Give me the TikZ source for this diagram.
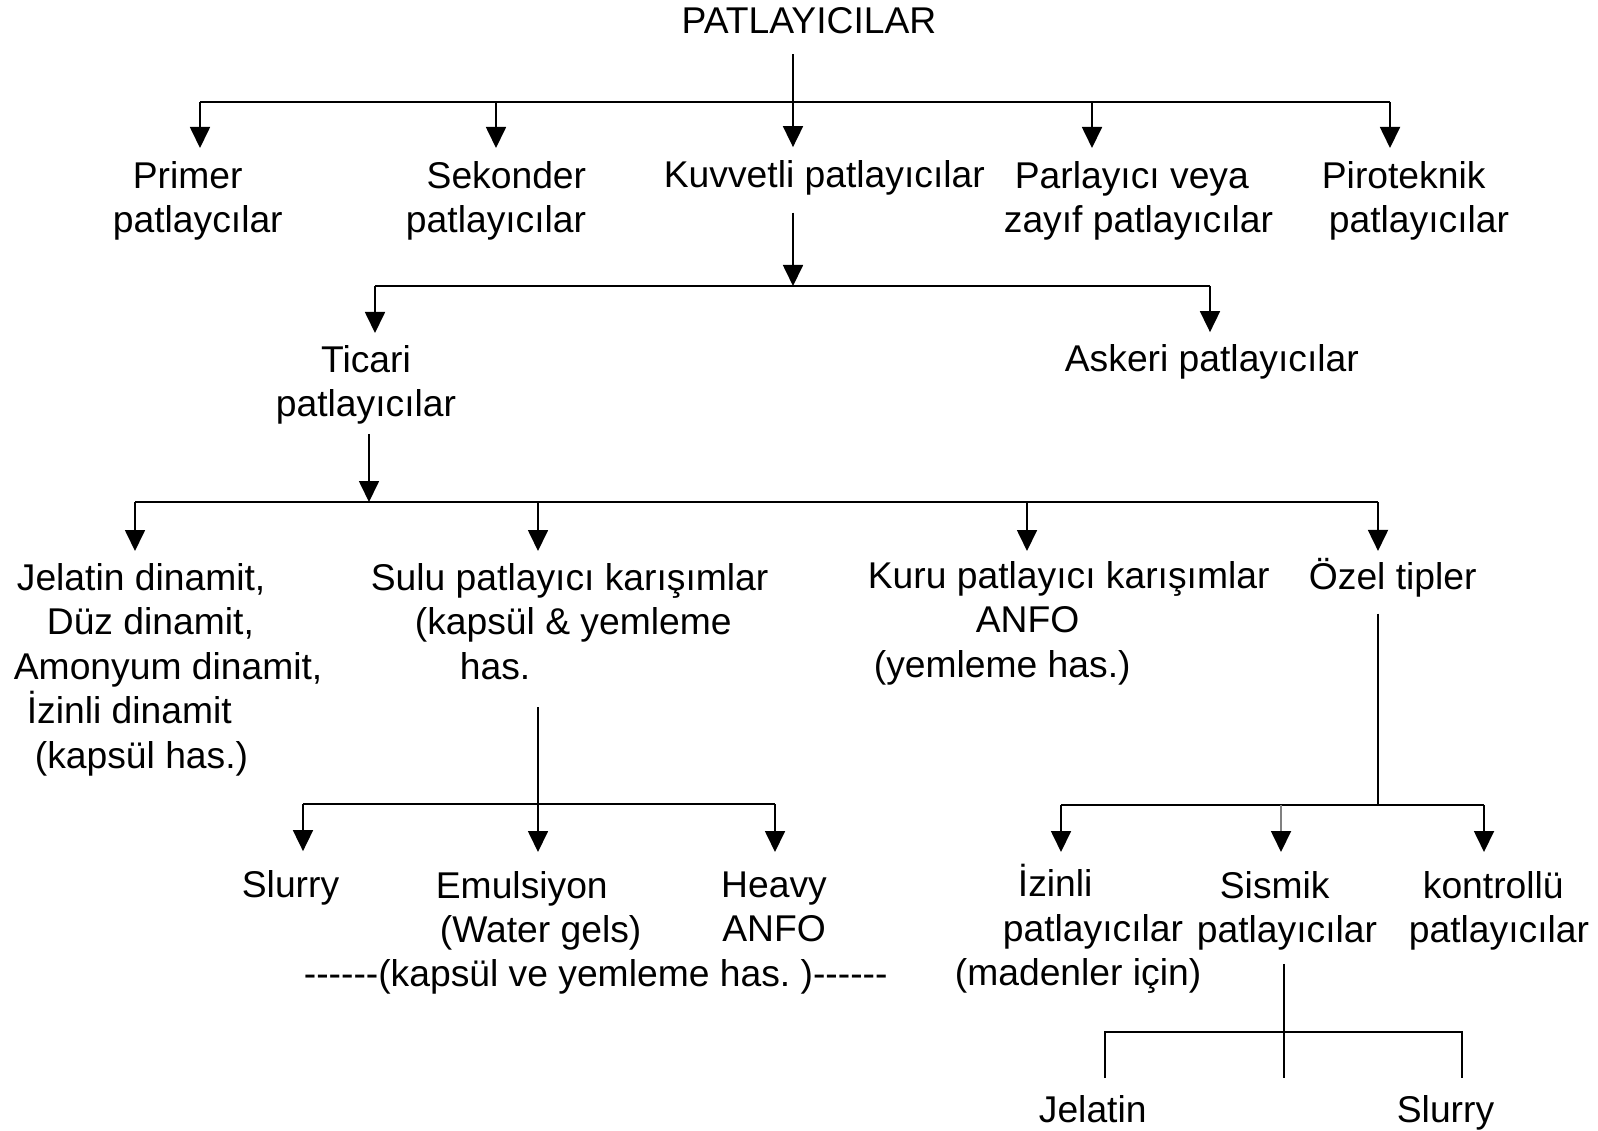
\documentclass[tikz,border=0pt]{standalone}
\usepackage{fontspec}
\setmainfont{Liberation Sans}
\usetikzlibrary{arrows.meta}

\newcommand{\lpad}[1]{\hspace*{#1mm}}

\begin{document}
\begin{tikzpicture}[
  x=0.1mm, y=-0.1mm,
  lbl/.style={inner sep=0pt, yshift=0.25mm, font=\fontsize{10.6}{12.66}\selectfont},
  lft/.style={lbl, anchor=north west, align=left},
  toarr/.style={-{Triangle[length=2.1mm,width=2mm,color=black]}, shorten >=#1},
  toarr/.default=1.25mm,
  line width=0.5pt
]
  \useasboundingbox (0,0) rectangle (1598,1131);

  % labels
  \node[lbl, anchor=base] (root) at (809,36) {PATLAYICILAR};

  \node[lft] (prim) at (112,163) {\lpad{2}Primer\\patlaycılar};
  \node[lbl, anchor=north east, align=right] (sek) at (587,163) {Sekonder\\patlayıcılar};
  \node[lbl, anchor=base west] (kuv) at (663,190) {Kuvvetli patlayıcılar};
  \node[lft] (parl) at (1003,163) {\lpad{1.1}Parlayıcı veya\\zayıf patlayıcılar};
  \node[lft] (piro) at (1321,163) {Piroteknik\\\lpad{0.7}patlayıcılar};

  \node[lbl, anchor=north, align=center] (tic) at (366,347) {Ticari\\patlayıcılar};
  \node[lbl, anchor=base west] (ask) at (1064,374) {Askeri patlayıcılar};

  \node[lft] (jel) at (13,565) {\lpad{0.3}Jelatin dinamit,\\\lpad{3.3}Düz dinamit,\\Amonyum dinamit,\\\lpad{1.3}İzinli dinamit\\\lpad{2.1}(kapsül has.)};
  \node[lft] (sulu) at (370,565) {Sulu patlayıcı karışımlar\\\lpad{4.4}(kapsül \& yemleme\\\lpad{8.9}has.};
  \node[lft] (kuru) at (867,563) {Kuru patlayıcı karışımlar\\\lpad{10.8}ANFO\\\lpad{0.6}(yemleme has.)};
  \node[lbl, anchor=base west] (ozel) at (1308,592) {Özel tipler};

  \node[lbl, anchor=base west] (slur) at (241,900) {Slurry};
  \node[lft] (emul) at (435,873) {Emulsiyon\\\lpad{0.4}(Water gels)};
  \node[lbl, anchor=north, align=center] (heavy) at (774,873) {Heavy\\ANFO};
  \node[lbl, anchor=base west] (note) at (303,989) {-{}-{}-{}-{}-{}-(kapsül ve yemleme has.\ )-{}-{}-{}-{}-{}-};

  \node[lft] (izin) at (954,866) {\lpad{6.3}İzinli\\\lpad{4.8}patlayıcılar\\(madenler için)};
  \node[lft] (sism) at (1196,873) {\lpad{2.3}Sismik\\patlayıcılar};
  \node[lft] (kont) at (1408,873) {\lpad{1.4}kontrollü\\patlayıcılar};

  \node[lbl, anchor=base west] (jelb) at (1038,1125) {Jelatin};
  \node[lbl, anchor=base west] (slurb) at (1396,1125) {Slurry};

  % level 1
  \coordinate (a1) at (200,102);
  \coordinate (a2) at (496,102);
  \coordinate (a3) at (793,102);
  \coordinate (a4) at (1092,102);
  \coordinate (a5) at (1390,102);
  \draw (a1) -- (a5);
  \draw[toarr, shorten <=1.95mm] (root.south -| a3) -- (a3 |- kuv.north);
  \draw[toarr] (a1) -- (a1 |- prim.north);
  \draw[toarr] (a2) -- (a2 |- sek.north);
  \draw[toarr] (a4) -- (a4 |- parl.north);
  \draw[toarr] (a5) -- (a5 |- piro.north);

  % level 2
  \coordinate (b1) at (375,286);
  \coordinate (b2) at (793,286);
  \coordinate (b3) at (1210,286);
  \draw (b1) -- (b3);
  \draw[toarr=0pt, shorten <=1.65mm] (kuv.south -| b2) -- (b2);
  \draw[toarr=1.15mm] (b1) -- (b1 |- tic.north);
  \draw[toarr=1.15mm] (b3) -- (b3 |- ask.north);

  % level 3
  \coordinate (c1) at (135,502);
  \coordinate (c2) at (369,502);
  \coordinate (c3) at (538,502);
  \coordinate (c4) at (1027,502);
  \coordinate (c5) at (1378,502);
  \draw (c1) -- (c5);
  \draw[toarr=0pt, shorten <=0.85mm] (tic.south -| c2) -- (c2);
  \draw[toarr=1.15mm] (c1) -- (c1 |- jel.north);
  \draw[toarr=1.15mm] (c3) -- (c3 |- sulu.north);
  \draw[toarr=0.95mm] (c4) -- (c4 |- kuru.north);
  \draw[toarr=0.65mm] (c5) -- (c5 |- ozel.north);

  % level 4, sulu
  \coordinate (d1) at (303,804);
  \coordinate (d2) at (538,804);
  \coordinate (d3) at (775,804);
  \draw (d1) -- (d3);
  \draw[toarr=1.85mm, shorten <=2.65mm] (sulu.south -| d2) -- (d2 |- emul.north);
  \draw[toarr=1.85mm] (d1) -- (d1 |- slur.north);
  \draw[toarr=1.85mm] (d3) -- (d3 |- heavy.north);

  % level 4, ozel
  \coordinate (e1) at (1061,805);
  \coordinate (e2) at (1281,805);
  \coordinate (e3) at (1378,805);
  \coordinate (e4) at (1484,805);
  \draw (e1) -- (e4);
  \draw[shorten <=1.55mm] (ozel.south -| e3) -- (e3);
  \draw[toarr=1.15mm] (e1) -- (e1 |- izin.north);
  \draw[toarr=1.85mm, draw=black!50] (e2) -- (e2 |- sism.north);
  \draw[toarr=1.85mm] (e4) -- (e4 |- kont.north);

  % sismik
  \coordinate (f1) at (1105,1032);
  \coordinate (f2) at (1284,1032);
  \coordinate (f3) at (1462,1032);
  \draw[shorten <=1.65mm, shorten >=1.65mm] (f1 |- jelb.north) -- (f1) -- (f3) -- (f3 |- slurb.north);
  \draw[shorten <=1.25mm, shorten >=1.65mm] (sism.south -| f2) -- (f2 |- jelb.north);
\end{tikzpicture}
\end{document}
